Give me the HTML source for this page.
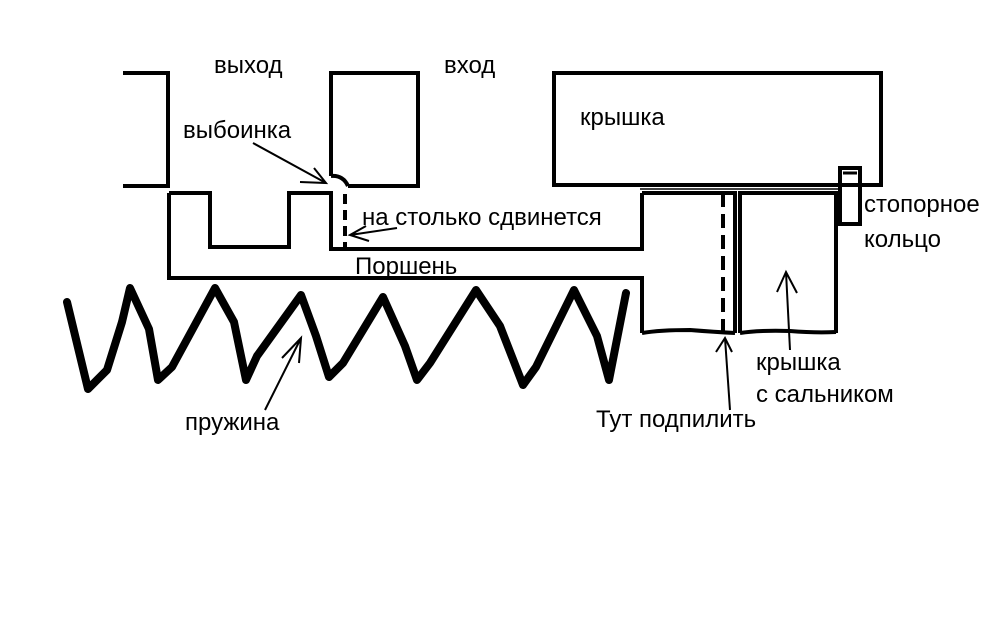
<!DOCTYPE html>
<html><head><meta charset="utf-8"><style>
html,body{margin:0;padding:0;background:#fff;}
svg{display:block;}
text{font-family:"Liberation Sans",sans-serif;font-size:24px;fill:#000;}
</style></head><body>
<svg width="1008" height="630" viewBox="0 0 1008 630" xmlns="http://www.w3.org/2000/svg">
<rect width="1008" height="630" fill="#fff"/>
<g fill="none" stroke="#000" stroke-width="4" stroke-linejoin="miter">
<path d="M123,73 H168 V186 H123"/>
<path d="M331,176 V73 H418 V186 H348"/>
<path d="M331,176 Q343,175 348,186"/>
<rect x="554" y="73" width="327" height="112"/>
<path d="M169,193 H210 V247 H289 V193 H331 V249 H642 V193"/>
<path d="M169,193 V278 H642 V333"/>
<path d="M642,193 H735 V333"/>
<path d="M642,333 Q660,330 690,330 Q715,332 735,333"/>
<path d="M740,333 V193 H836 V333"/>
<path d="M740,333 Q760,330 790,331 Q815,333 836,332"/>
<rect x="840" y="168" width="20" height="56"/>
<line x1="843" y1="173" x2="857" y2="173" stroke-width="3"/>
</g>
<line x1="640" y1="189" x2="838" y2="189" stroke="#000" stroke-width="1.5"/>
<line x1="345" y1="194" x2="345" y2="249" stroke="#000" stroke-width="4" stroke-dasharray="10,6"/>
<line x1="723" y1="193" x2="723" y2="335" stroke="#000" stroke-width="4" stroke-dasharray="14,7"/>
<path d="M67,302 L88,389 L107,370 L122,322 L130,288 L149,329 L158,380 L172,367 L215,288 L234,322 L246,380 L257,356 L301,295 L316,336 L329,377 L343,363 L383,297 L405,346 L417,380 L430,363 L476,290 L500,326 L523,385 L536,367 L574,290 L597,336 L609,380 L626,293" fill="none" stroke="#000" stroke-width="8" stroke-linejoin="round" stroke-linecap="round"/>
<g fill="none" stroke="#000" stroke-width="2">
<path d="M253,143 L326,183 M300,182 L326,183 L314,168"/>
<path d="M397,228 L350,235 M366,226 L350,235 L369,241"/>
<path d="M265,410 L301,338 M282,358 L301,338 L299,363"/>
<path d="M730,410 L725,338 M716,352 L725,338 L732,352"/>
<path d="M790,350 L786,272 M777,292 L786,272 L797,293"/>
</g>
<text x="214" y="73">выход</text>
<text x="444" y="73">вход</text>
<text x="183" y="138">выбоинка</text>
<text x="580" y="125">крышка</text>
<text x="362" y="225">на столько сдвинется</text>
<text x="355" y="274">Поршень</text>
<text x="864" y="212">стопорное</text>
<text x="864" y="247">кольцо</text>
<text x="756" y="370">крышка</text>
<text x="756" y="402">с сальником</text>
<text x="596" y="427">Тут подпилить</text>
<text x="185" y="430">пружина</text>
</svg>
</body></html>
